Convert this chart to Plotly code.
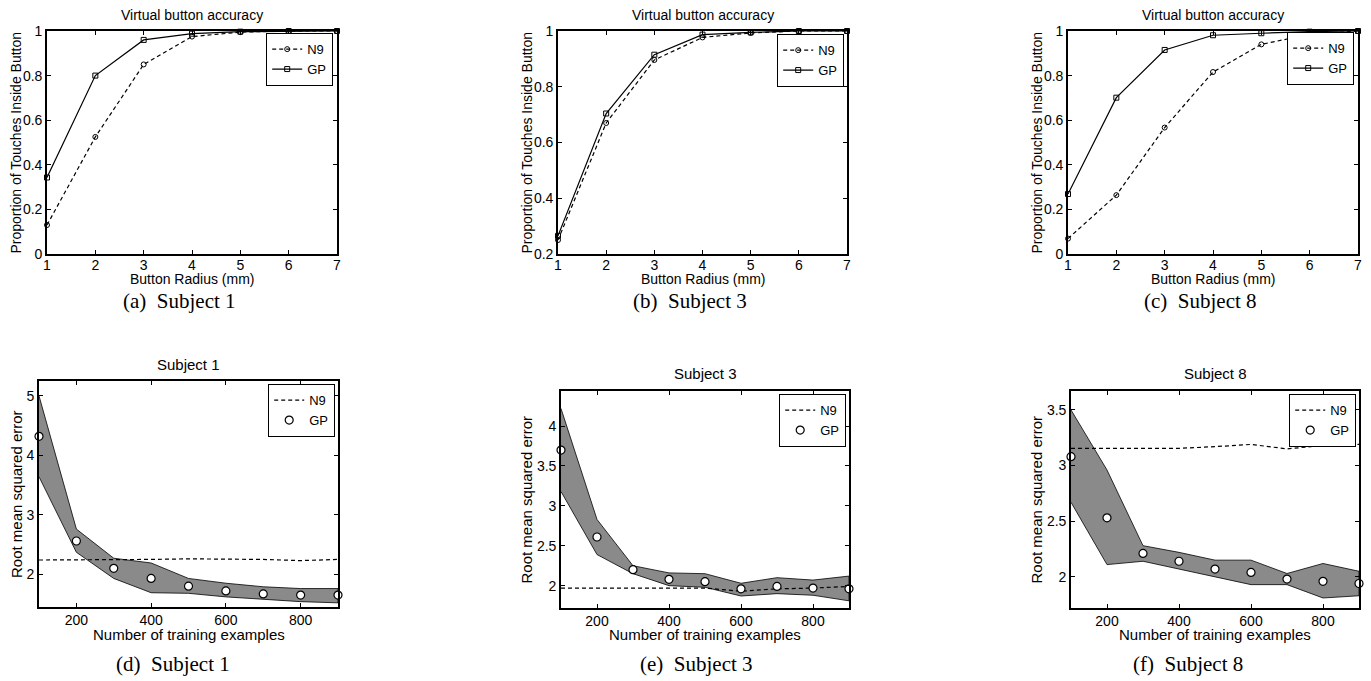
import plotly.graph_objects as go

W, H = 1371, 681

# ---------------- data ----------------
radius = [1, 2, 3, 4, 5, 6, 7]
s1_n9 = [0.13, 0.525, 0.85, 0.975, 0.995, 1.0, 1.0]
s1_gp = [0.343, 0.80, 0.96, 0.988, 0.997, 1.0, 1.0]
s3_n9 = [0.25, 0.67, 0.896, 0.977, 0.993, 1.0, 1.0]
s3_gp = [0.265, 0.704, 0.915, 0.987, 0.995, 1.0, 1.0]
s8_n9 = [0.069, 0.264, 0.567, 0.816, 0.94, 0.985, 1.0]
s8_gp = [0.269, 0.701, 0.915, 0.981, 0.99, 0.997, 1.0]

n_train = [100, 200, 300, 400, 500, 600, 700, 800, 900]
r1_n9 = [2.24, 2.24, 2.25, 2.25, 2.26, 2.26, 2.25, 2.23, 2.25]
r1_gp = [4.32, 2.56, 2.10, 1.93, 1.80, 1.72, 1.67, 1.65, 1.65]
r1_hi = [5.0, 2.76, 2.27, 2.19, 1.93, 1.85, 1.79, 1.76, 1.76]
r1_lo = [3.64, 2.37, 1.93, 1.69, 1.68, 1.62, 1.58, 1.54, 1.52]

r3_n9 = [1.97, 1.97, 1.97, 1.97, 1.97, 1.93, 1.96, 1.97, 1.99]
r3_gp = [3.70, 2.61, 2.20, 2.08, 2.05, 1.96, 1.99, 1.97, 1.96]
r3_hi = [4.22, 2.83, 2.25, 2.16, 2.15, 2.03, 2.10, 2.07, 2.12]
r3_lo = [3.18, 2.39, 2.15, 2.00, 1.98, 1.87, 1.90, 1.88, 1.81]

r8_n9 = [3.155, 3.155, 3.15, 3.155, 3.17, 3.19, 3.15, 3.18, 3.19]
r8_gp = [3.08, 2.53, 2.21, 2.14, 2.07, 2.04, 1.98, 1.96, 1.94]
r8_hi = [3.50, 2.96, 2.28, 2.22, 2.15, 2.15, 2.03, 2.12, 2.05]
r8_lo = [2.67, 2.11, 2.14, 2.07, 2.00, 1.93, 1.93, 1.81, 1.83]

top_title = "Virtual button accuracy"
top_xlabel = "Button Radius (mm)"
top_ylabel = "Proportion of Touches Inside Button"
bot_xlabel = "Number of training examples"
bot_ylabel = "Root mean squared error"
captions = ["(a)\u00a0\u00a0Subject 1", "(b)\u00a0\u00a0Subject 3", "(c)\u00a0\u00a0Subject 8",
            "(d)\u00a0\u00a0Subject 1", "(e)\u00a0\u00a0Subject 3", "(f)\u00a0\u00a0Subject 8"]
bot_titles = ["Subject 1", "Subject 3", "Subject 8"]

# ---------------- layout geometry (pixels) ----------------
SANS = "Liberation Sans, Arial, sans-serif"
SERIF = "Liberation Serif, Times New Roman, serif"

def px(x):
    return x / W

def py(y):
    return 1 - y / H

# (x0, x1, y0_top, y1_bottom)
boxes = [
    (47, 337, 31, 254),
    (558, 847, 31, 254),
    (1068, 1358, 31, 254),
    (39, 338, 381, 607),
    (561, 849, 391, 608),
    (1071, 1359, 391, 608),
]
yranges = [[0, 1], [0.2, 1], [0, 1], [1.45, 5.25], [1.72, 4.44], [1.72, 3.67]]
ydticks = [0.2, 0.2, 0.2, 1, 0.5, 0.5]
legend_pos = [(333, 33), (844, 34), (1354, 32), (335, 384), (846, 394), (1356, 394)]

fig = go.Figure()

top_sets = [(s1_n9, s1_gp), (s3_n9, s3_gp), (s8_n9, s8_gp)]
for i, (n9, gp) in enumerate(top_sets):
    k = i + 1
    ax = "" if k == 1 else str(k)
    leg = "legend" if k == 1 else f"legend{k}"
    fig.add_trace(go.Scatter(
        x=radius, y=n9, mode="lines+markers", name="N9",
        line=dict(color="black", width=1.2, dash="4px,3px"),
        marker=dict(symbol="circle-open", size=5, color="black", line=dict(width=1)),
        xaxis="x" + ax, yaxis="y" + ax, legend=leg, cliponaxis=False))
    fig.add_trace(go.Scatter(
        x=radius, y=gp, mode="lines+markers", name="GP",
        line=dict(color="black", width=1.2),
        marker=dict(symbol="square-open", size=5, color="black", line=dict(width=1)),
        xaxis="x" + ax, yaxis="y" + ax, legend=leg, cliponaxis=False))

bot_sets = [(r1_n9, r1_gp, r1_hi, r1_lo), (r3_n9, r3_gp, r3_hi, r3_lo), (r8_n9, r8_gp, r8_hi, r8_lo)]
for i, (n9, gp, hi, lo) in enumerate(bot_sets):
    k = i + 4
    ax = str(k)
    leg = f"legend{k}"
    fig.add_trace(go.Scatter(
        x=n_train + n_train[::-1], y=hi + lo[::-1], mode="lines", fill="toself",
        fillcolor="#8a8a8a", line=dict(color="black", width=0.8),
        showlegend=False, hoverinfo="skip", xaxis="x" + ax, yaxis="y" + ax))
    fig.add_trace(go.Scatter(
        x=n_train, y=n9, mode="lines", name="N9",
        line=dict(color="black", width=1.2, dash="4px,3px"),
        xaxis="x" + ax, yaxis="y" + ax, legend=leg))
    fig.add_trace(go.Scatter(
        x=n_train, y=gp, mode="markers", name="GP",
        marker=dict(symbol="circle", size=8, color="white", line=dict(color="black", width=1.2)),
        xaxis="x" + ax, yaxis="y" + ax, legend=leg, cliponaxis=False))

layout = dict(
    width=W, height=H, margin=dict(l=0, r=0, t=0, b=0, autoexpand=False),
    paper_bgcolor="white", plot_bgcolor="white",
    font=dict(family=SANS, size=14, color="black"),
    showlegend=True,
)

for j, (x0, x1, y0, y1) in enumerate(boxes):
    k = j + 1
    ax = "" if k == 1 else str(k)
    top = j < 3
    fsz = 14
    xa = dict(
        domain=[px(x0), px(x1)], anchor="y" + ax,
        range=[1, 7] if top else [100, 900],
        tickmode="linear", tick0=1 if top else 0, dtick=1 if top else 200,
        ticks="inside", ticklen=4, tickwidth=1, tickcolor="black",
        showline=True, linecolor="black", linewidth=1.6, mirror="allticks",
        showgrid=False, zeroline=False, tickfont=dict(size=fsz, family=SANS),
        ticklabelstandoff=-3 if top else -1,
        fixedrange=True,
    )
    ya = dict(
        domain=[py(y1), py(y0)], anchor="x" + ax,
        range=yranges[j], tickmode="linear", tick0=0, dtick=ydticks[j],
        ticks="inside", ticklen=4, tickwidth=1, tickcolor="black",
        showline=True, linecolor="black", linewidth=1.6, mirror="allticks",
        showgrid=False, zeroline=False, tickfont=dict(size=fsz, family=SANS),
        fixedrange=True,
    )
    layout["xaxis" + ax] = xa
    layout["yaxis" + ax] = ya
    lx, ly = legend_pos[j]
    layout["legend" if k == 1 else f"legend{k}"] = dict(
        x=px(lx), y=py(ly), xanchor="right", yanchor="top",
        bgcolor="white", bordercolor="black", borderwidth=1.2,
        font=dict(size=13, family=SANS), itemwidth=30, tracegroupgap=0,
    )

anns = []
for j in range(3):
    x0, x1, y0, y1 = boxes[j]
    anns.append(dict(text=top_title, x=px((x0 + x1) / 2), y=py(15), xref="paper", yref="paper",
                     showarrow=False, xanchor="center", yanchor="middle", font=dict(size=14)))
    anns.append(dict(text=top_xlabel, x=px((x0 + x1) / 2), y=py(279), xref="paper", yref="paper",
                     showarrow=False, xanchor="center", yanchor="middle", font=dict(size=14)))
    anns.append(dict(text=top_ylabel, x=px(x0 - 31), y=py((y0 + y1) / 2), xref="paper", yref="paper",
                     showarrow=False, xanchor="center", yanchor="middle", textangle=-90, font=dict(size=14)))
for j in range(3):
    x0, x1, y0, y1 = boxes[j + 3]
    ty = 364 if j == 0 else 373
    anns.append(dict(text=bot_titles[j], x=px((x0 + x1) / 2), y=py(ty), xref="paper", yref="paper",
                     showarrow=False, xanchor="center", yanchor="middle", font=dict(size=15)))
    anns.append(dict(text=bot_xlabel, x=px((x0 + x1) / 2), y=py(634), xref="paper", yref="paper",
                     showarrow=False, xanchor="center", yanchor="middle", font=dict(size=15)))
    anns.append(dict(text=bot_ylabel, x=px(x0 - 23 if j == 0 else x0 - 35), y=py((y0 + y1) / 2),
                     xref="paper", yref="paper",
                     showarrow=False, xanchor="center", yanchor="middle", textangle=-90, font=dict(size=15)))
cap_x = [180, 690, 1200, 173, 696, 1188]
cap_y = [301, 301, 301, 664, 664, 664]
for j in range(6):
    anns.append(dict(text=captions[j], x=px(cap_x[j]), y=py(cap_y[j]), xref="paper", yref="paper",
                     showarrow=False, xanchor="center", yanchor="middle",
                     font=dict(size=21, family=SERIF)))
layout["annotations"] = anns

fig.update_layout(**layout)
fig.write_html(
    "out.html",
    config={"displayModeBar": False, "staticPlot": False},
    post_script="document.body.style.margin='0';document.body.style.padding='0';"
                "document.body.style.overflow='hidden';",
)
